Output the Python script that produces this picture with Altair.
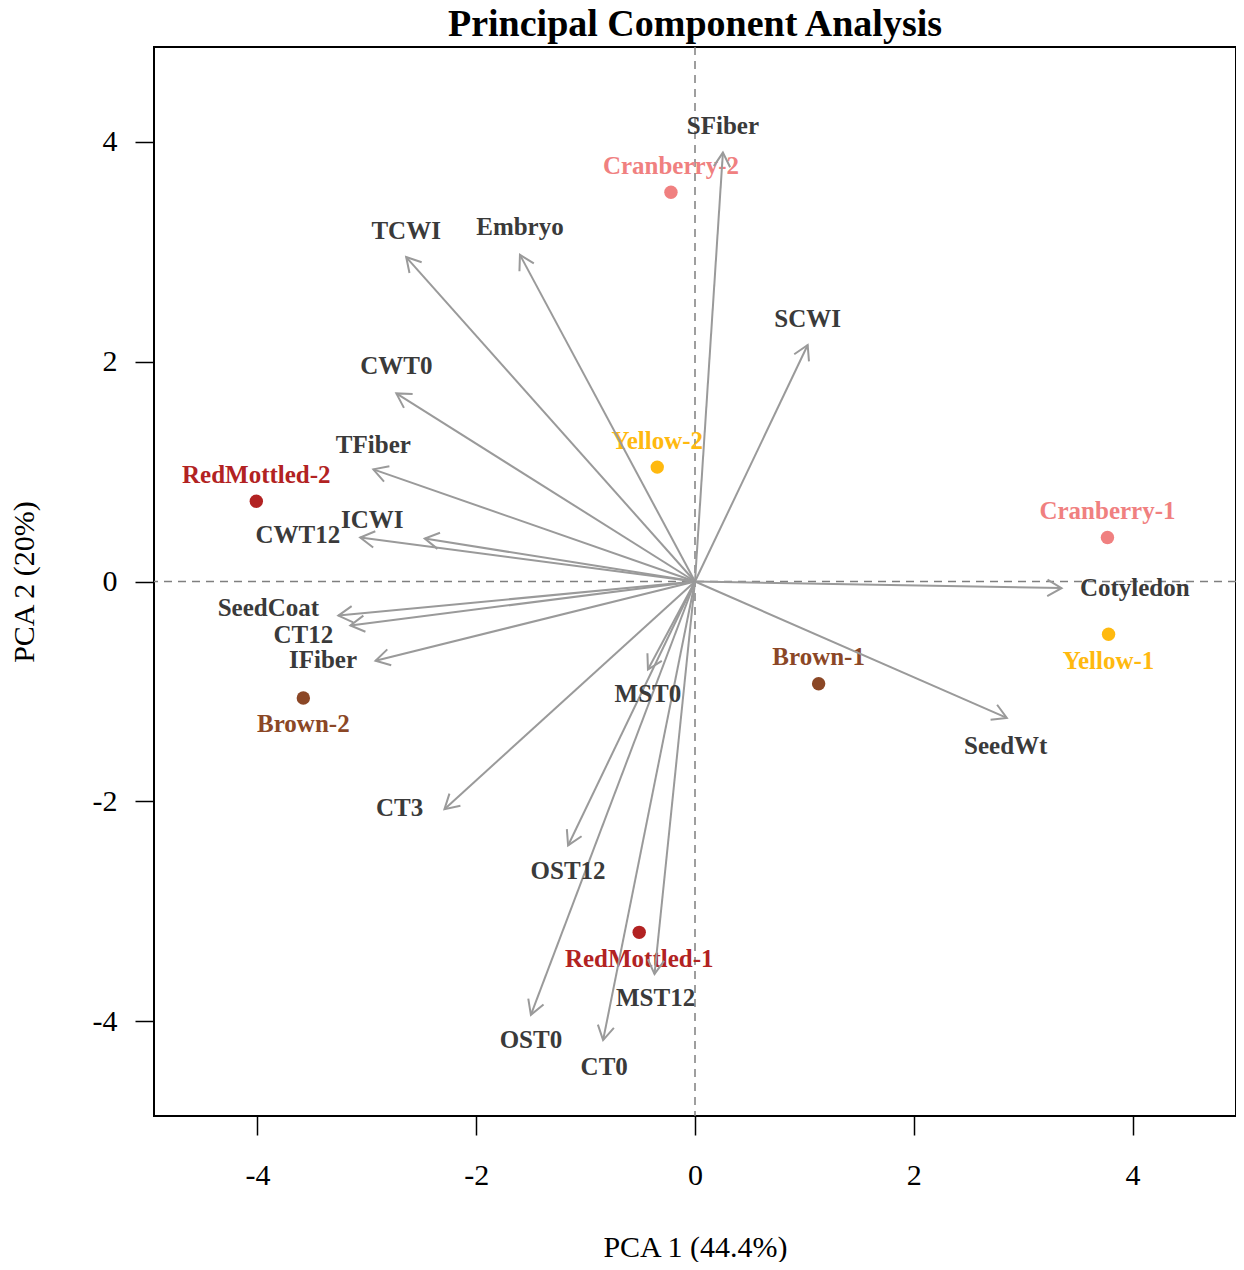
import math
import altair as alt
import pandas as pd

# ---- samples (scores) ----
sample_names = ["Cranberry-2", "Yellow-2", "RedMottled-2", "Cranberry-1",
                "Yellow-1", "Brown-1", "Brown-2", "RedMottled-1"]
sample_group = ["Cranberry", "Yellow", "RedMottled", "Cranberry",
                "Yellow", "Brown", "Brown", "RedMottled"]
sample_pc1 = [-0.22, -0.345, -4.01, 3.77, 3.78, 1.13, -3.58, -0.51]
sample_pc2 = [3.54, 1.04, 0.73, 0.40, -0.48, -0.93, -1.06, -3.19]
sample_label_pc2 = [3.78, 1.28, 0.97, 0.64, -0.72, -0.69, -1.30, -3.43]

# ---- variables (loadings) ----
var_names = ["SFiber", "TCWI", "Embryo", "SCWI", "CWT0", "TFiber", "CWT12",
             "ICWI", "Cotyledon", "SeedCoat", "CT12", "IFiber", "SeedWt",
             "MST0", "CT3", "OST12", "MST12", "OST0", "CT0"]
var_pc1 = [0.255, -2.64, -1.60, 1.03, -2.73, -2.94, -3.06, -2.47, 3.35, -3.26,
           -3.15, -2.92, 2.85, -0.43, -2.29, -1.16, -0.37, -1.50, -0.84]
var_pc2 = [3.90, 2.95, 2.97, 2.15, 1.71, 1.02, 0.40, 0.39, -0.06, -0.31,
           -0.40, -0.72, -1.24, -0.80, -2.07, -2.40, -3.57, -3.94, -4.17]
var_label_pc1 = [0.255, -2.64, -1.60, 1.03, -2.73, -2.94, -3.63, -2.95, 4.02,
                 -3.90, -3.58, -3.40, 2.84, -0.43, -2.70, -1.16, -0.36, -1.50, -0.83]
var_label_pc2 = [4.14, 3.19, 3.22, 2.39, 1.96, 1.24, 0.42, 0.56, -0.06, -0.245,
                 -0.49, -0.71, -1.50, -1.02, -2.06, -2.63, -3.79, -4.17, -4.41]

group_domain = ["Brown", "Cranberry", "RedMottled", "Yellow"]
group_colors = ["#8B4726", "#F08080", "#B22222", "#FFB90F"]

W, H = 1082, 1069
XD = [-4.945, 4.945]
YD = [-4.86, 4.86]
sx = W / (XD[1] - XD[0])
sy = H / (YD[1] - YD[0])

samples = pd.DataFrame({"name": sample_names, "group": sample_group,
                        "pc1": sample_pc1, "pc2": sample_pc2,
                        "lpc2": sample_label_pc2})
variables = pd.DataFrame({"name": var_names, "pc1": var_pc1, "pc2": var_pc2,
                          "lpc1": var_label_pc1, "lpc2": var_label_pc2})
variables["o1"] = 0.0
variables["o2"] = 0.0
variables["ang"] = [
    (math.degrees(math.atan2(-b * sy, a * sx)) + 360) % 360
    for a, b in zip(var_pc1, var_pc2)
]

FONT = "Liberation Serif"
xs = alt.Scale(domain=XD, nice=False, zero=False)
ys = alt.Scale(domain=YD, nice=False, zero=False)
x_axis = alt.Axis(title="PCA 1 (44.4%)", values=[-4, -2, 0, 2, 4], grid=False,
                  domain=False, tickSize=19, tickWidth=1.5, tickColor="black",
                  labelPadding=25, labelFontSize=30, labelFont=FONT,
                  labelColor="black", labelExpr="'' + datum.value",
                  titleFont=FONT, titleFontSize=30,
                  titleFontWeight="normal", titleColor="black",
                  titleX=W / 2, titleY=131, titleBaseline="middle")
y_axis = alt.Axis(title="PCA 2 (20%)", values=[-4, -2, 0, 2, 4], grid=False,
                  domain=False, tickSize=19, tickWidth=1.5, tickColor="black",
                  labelPadding=18, labelFontSize=30, labelFont=FONT,
                  labelColor="black", labelExpr="'' + datum.value",
                  titleFont=FONT, titleFontSize=30,
                  titleFontWeight="normal", titleColor="black",
                  titleX=-130, titleY=H / 2, titleBaseline="middle",
                  titleAngle=270)

zero = pd.DataFrame({"v": [0.0]})
vline = alt.Chart(zero).mark_rule(color="#7f7f7f", strokeDash=[8, 6],
                                  strokeWidth=1.5).encode(
    x=alt.X("v:Q", scale=xs, axis=x_axis))
hline = alt.Chart(zero).mark_rule(color="#7f7f7f", strokeDash=[8, 6],
                                  strokeWidth=1.5).encode(
    y=alt.Y("v:Q", scale=ys, axis=y_axis))

color_enc = alt.Color("group:N", scale=alt.Scale(domain=group_domain,
                                                 range=group_colors),
                      legend=None)

pts = alt.Chart(samples).mark_circle(size=180, opacity=1).encode(
    x=alt.X("pc1:Q", scale=xs, axis=x_axis),
    y=alt.Y("pc2:Q", scale=ys, axis=y_axis),
    color=color_enc)

slabels = alt.Chart(samples).mark_text(font=FONT, fontSize=25,
                                       fontWeight="bold", baseline="middle").encode(
    x=alt.X("pc1:Q", scale=xs, axis=x_axis),
    y=alt.Y("lpc2:Q", scale=ys, axis=y_axis),
    text="name:N",
    color=color_enc)

arrows = alt.Chart(variables).mark_rule(color="#9a9a9a", strokeWidth=2).encode(
    x=alt.X("o1:Q", scale=xs, axis=x_axis),
    y=alt.Y("o2:Q", scale=ys, axis=y_axis),
    x2="pc1:Q", y2="pc2:Q")

heads = alt.Chart(variables).mark_point(
    shape="M-1,-0.577L0,0L-1,0.577", filled=False, size=800,
    strokeWidth=2, color="#9a9a9a", opacity=1).encode(
    x=alt.X("pc1:Q", scale=xs, axis=x_axis),
    y=alt.Y("pc2:Q", scale=ys, axis=y_axis),
    angle=alt.Angle("ang:Q", scale=None))

vlabels = alt.Chart(variables).mark_text(font=FONT, fontSize=25,
                                         fontWeight="bold", baseline="middle",
                                         color="#3a3a3a").encode(
    x=alt.X("lpc1:Q", scale=xs, axis=x_axis),
    y=alt.Y("lpc2:Q", scale=ys, axis=y_axis),
    text="name:N")

chart = alt.layer(vline, hline, pts, slabels, arrows, heads, vlabels).properties(
    width=W, height=H,
    title=alt.TitleParams("Principal Component Analysis", font=FONT,
                          fontSize=38, fontWeight="bold", color="black",
                          anchor="middle", frame="group",
                          baseline="alphabetic", offset=-28),
    autosize=alt.AutoSizeParams(type="none"),
    padding={"left": 146, "top": 39, "right": 0, "bottom": 146},
).configure_view(stroke="black", strokeWidth=2)

chart.save("out.html", embed_options={"renderer": "svg", "actions": False})
